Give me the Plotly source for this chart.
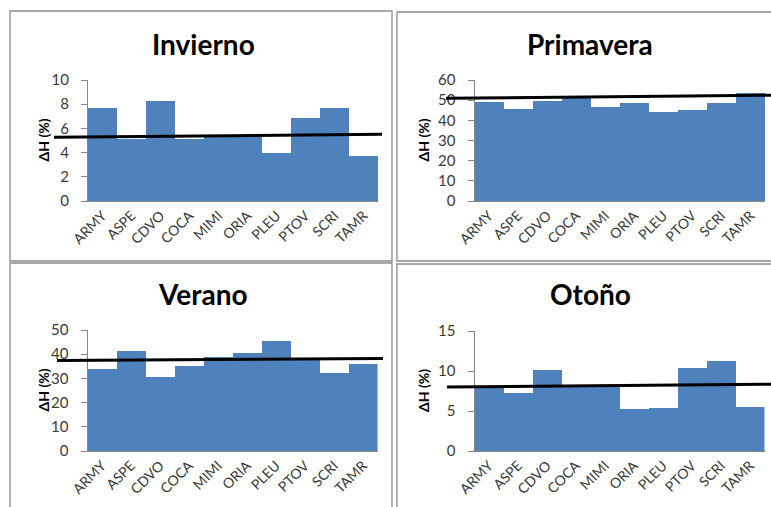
import plotly.graph_objects as go

# Stations (categories) shared by all four seasonal panels
stations = ["ARMY", "ASPE", "CDVO", "COCA", "MIMI", "ORIA", "PLEU", "PTOV", "SCRI", "TAMR"]

# Seasonal ΔH (%) per station
invierno = [7.7, 5.1, 8.3, 5.1, 5.35, 5.4, 3.95, 6.85, 7.7, 3.75]
primavera = [49.1, 45.6, 49.8, 51.0, 46.8, 48.4, 44.3, 45.1, 48.4, 53.4]
verano = [33.8, 41.5, 30.5, 35.0, 39.0, 40.7, 45.3, 37.9, 32.4, 36.1]
otono = [8.05, 7.3, 10.1, 8.1, 8.2, 5.3, 5.35, 10.35, 11.25, 5.55]

# Mean trend line (start value, end value) for each season
trend_invierno = [5.26, 5.51]
trend_primavera = [50.9, 52.5]
trend_verano = [37.4, 38.2]
trend_otono = [8.0, 8.35]

# Panel titles, y ranges and tick steps
titles = ["Invierno", "Primavera", "Verano", "Otoño"]
y_max = [10, 60, 50, 15]
y_step = [2, 10, 10, 5]

W, H = 771, 507
BAR_BLUE = "#4F81BD"
AXIS_GREY = "#868686"
TEXT = "#3a3a3a"
FONT = "Lato"

series = [invierno, primavera, verano, otono]
trends = [trend_invierno, trend_primavera, trend_verano, trend_otono]

# Plot-area boxes in pixels: (left, right, top, bottom)
plot_px = [
    (88, 378, 80, 201),
    (474.5, 765, 80, 201),
    (87.5, 377.5, 330, 451),
    (474.5, 764.5, 331, 451),
]
# Outer panel frames in pixels: (left, right, top, bottom)
frame_px = [
    (10, 392, 11, 261),
    (397, 790, 12, 261),
    (10, 392, 263, 530),
    (397, 790, 264, 530),
]
# Horizontal extent of each trend line, in pixels
trend_x_px = [(54, 382), (446, 775), (57, 383), (447, 775)]
# Title centres in pixels
title_px = [(203, 44), (590, 44), (203, 294), (590, 294)]


def px_x(v):
    return v / W


def px_y(v):
    return 1 - v / H


fig = go.Figure()
layout = dict(
    width=W,
    height=H,
    margin=dict(l=0, r=0, t=0, b=0, pad=0),
    paper_bgcolor="white",
    plot_bgcolor="white",
    showlegend=False,
    bargap=0,
    font=dict(family=FONT, color=TEXT),
    shapes=[],
    annotations=[],
)

for i in range(4):
    n = "" if i == 0 else str(i + 1)
    xa, ya = "x" + n, "y" + n
    left, right, top, bottom = plot_px[i]

    fig.add_trace(
        go.Bar(
            x=stations,
            y=series[i],
            marker=dict(color=BAR_BLUE, line=dict(width=0)),
            xaxis=xa,
            yaxis=ya,
            hoverinfo="x+y",
        )
    )

    layout["xaxis" + n] = dict(
        domain=[px_x(left), px_x(right)],
        anchor=ya,
        type="category",
        range=[-0.5, len(stations) - 0.5],
        automargin=False,
        showline=True,
        linecolor=AXIS_GREY,
        linewidth=1,
        ticks="",
        tickangle=-45,
        tickfont=dict(family=FONT, size=14, color=TEXT),
        showgrid=False,
        zeroline=False,
        fixedrange=True,
    )
    layout["yaxis" + n] = dict(
        domain=[px_y(bottom), px_y(top)],
        anchor=xa,
        range=[0, y_max[i]],
        dtick=y_step[i],
        tick0=0,
        automargin=False,
        showline=True,
        linecolor=AXIS_GREY,
        linewidth=1,
        ticks="outside",
        ticklen=6,
        tickcolor=AXIS_GREY,
        ticklabelstandoff=9,
        tickfont=dict(family=FONT, size=15, color=TEXT),
        showgrid=False,
        zeroline=False,
        fixedrange=True,
    )

    # Panel frame
    fl, fr, ft, fb = frame_px[i]
    layout["shapes"].append(
        dict(
            type="rect",
            xref="paper",
            yref="paper",
            x0=px_x(fl),
            x1=px_x(fr),
            y0=px_y(fb),
            y1=px_y(ft),
            line=dict(color="#8C8C8C", width=1.3),
            fillcolor="rgba(0,0,0,0)",
            layer="below",
        )
    )

    # Trend line, placed in the subplot's domain frame so it may run past the axes
    tx0, tx1 = trend_x_px[i]
    width_px = right - left
    layout["shapes"].append(
        dict(
            type="line",
            xref=xa + " domain",
            yref=ya + " domain",
            x0=(tx0 - left) / width_px,
            x1=(tx1 - left) / width_px,
            y0=trends[i][0] / y_max[i],
            y1=trends[i][1] / y_max[i],
            line=dict(color="black", width=3),
            layer="above",
        )
    )

    # Panel title
    tx, ty = title_px[i]
    layout["annotations"].append(
        dict(
            text="<b>%s</b>" % titles[i],
            xref="paper",
            yref="paper",
            x=px_x(tx),
            y=px_y(ty),
            xanchor="center",
            yanchor="middle",
            showarrow=False,
            font=dict(family=FONT, size=28, color="black"),
        )
    )

    # Y-axis title
    layout["annotations"].append(
        dict(
            text="<b>ΔH (%)</b>",
            xref="paper",
            yref="paper",
            x=px_x(43 if i % 2 == 0 else 423),
            y=px_y((top + bottom) / 2),
            xanchor="center",
            yanchor="middle",
            textangle=-90,
            showarrow=False,
            font=dict(family=FONT, size=14, color="black"),
        )
    )

fig.update_layout(**layout)
fig.write_html("out.html")
